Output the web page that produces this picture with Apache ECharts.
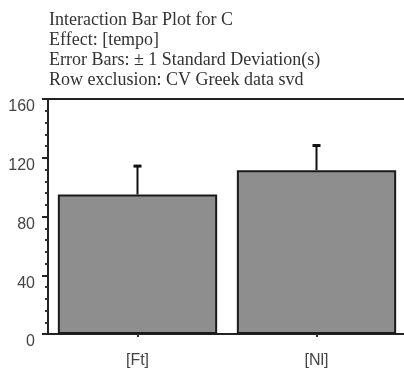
<!DOCTYPE html>
<html>
<head>
<meta charset="utf-8">
<script src="https://cdn.jsdelivr.net/npm/echarts@6/dist/echarts.min.js"></script>
<style>
html,body{margin:0;padding:0;background:#fff;}
#c{width:404px;height:372px;}
</style>
</head>
<body>
<div id="c"></div>
<script>
const titleLines = ['Interaction Bar Plot for C', 'Effect: [tempo]', 'Error Bars: \u00b1 1 Standard Deviation(s)', 'Row exclusion: CV Greek data svd'];
const categories = ['[Ft]', '[Nl]'];
const means = [95, 111.5];
const sds = [20, 17.5];
const yTicks = [0, 40, 80, 120, 160];

const chart = echarts.init(document.getElementById('c'), null, {renderer: 'canvas'});
chart.setOption({
  backgroundColor: '#fff',
  animation: false,
  title: {
    text: titleLines.join('\n'),
    left: 44, top: 5,
    textStyle: {fontFamily: 'Liberation Serif', fontSize: 18, fontWeight: 'normal', color: '#333', lineHeight: 20}
  },
  grid: {left: 48, right: -2, top: 99, bottom: 38, outerBoundsMode: 'none', containLabel: false, show: true, borderColor: '#222', borderWidth: 2, backgroundColor: 'transparent'},
  xAxis: {
    type: 'category', data: categories,
    axisLine: {lineStyle: {color: '#222', width: 2}},
    axisTick: {show: true, alignWithLabel: true, length: 3, lineStyle: {color: '#333', width: 2}},
    axisLabel: {fontFamily: 'Liberation Sans', fontSize: 16, color: '#444', margin: 19}
  },
  yAxis: {
    type: 'value', min: yTicks[0], max: yTicks[yTicks.length - 1], interval: 40,
    axisLine: {show: true, lineStyle: {color: '#222', width: 2}},
    axisTick: {show: true, length: 6, lineStyle: {color: '#222', width: 2}},
    minorTick: {show: true, splitNumber: 5, length: 3, lineStyle: {color: '#333', width: 2}},
    splitLine: {show: false},
    axisLabel: {fontFamily: 'Liberation Sans', fontSize: 16, color: '#444', margin: 13, verticalAlign: 'top'}
  },
  series: [
    {
      type: 'bar', data: means, barCategoryGap: '11%',
      itemStyle: {color: '#8e8e8e', borderColor: '#1a1a1a', borderWidth: 2}
    },
    {
      type: 'custom',
      data: means.map((m, i) => [i, m, m + sds[i]]),
      renderItem: function (params, api) {
        const p0 = api.coord([api.value(0), api.value(1)]);
        const p1 = api.coord([api.value(0), api.value(2)]);
        const w = 4;
        return {
          type: 'group',
          children: [
            {type: 'line', shape: {x1: p0[0], y1: p0[1], x2: p1[0], y2: p1[1]}, style: {stroke: '#111', lineWidth: 2}},
            {type: 'line', shape: {x1: p1[0] - w, y1: p1[1] + 1, x2: p1[0] + w, y2: p1[1] + 1}, style: {stroke: '#111', lineWidth: 3}}
          ]
        };
      },
      z: 3
    }
  ]
});
</script>
</body>
</html>
